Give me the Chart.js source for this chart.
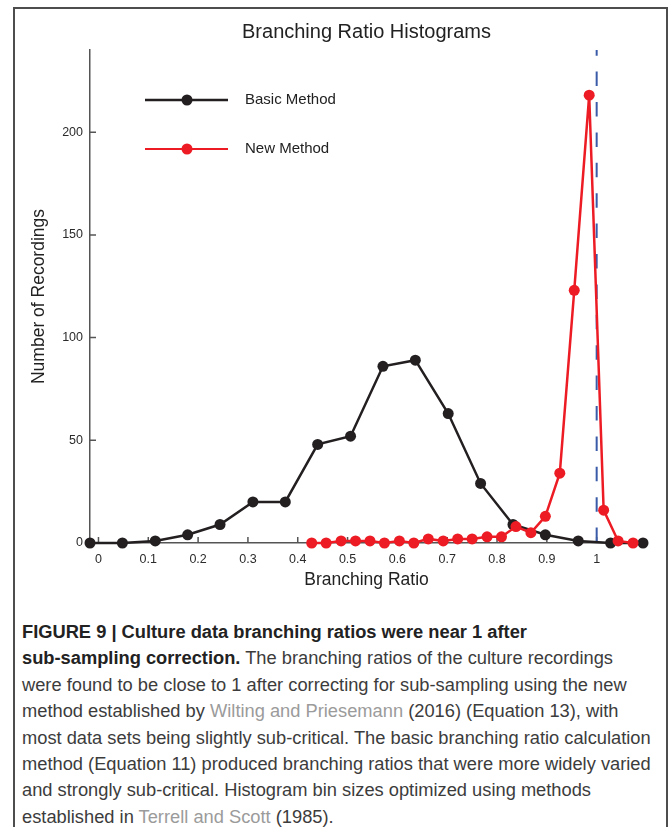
<!DOCTYPE html>
<html>
<head>
<meta charset="utf-8">
<script src="https://cdn.jsdelivr.net/npm/chart.js@4.4.1/dist/chart.umd.min.js"></script>
<style>
    html, body { margin: 0; padding: 0; background: #fff; width: 669px; height: 827px; overflow: hidden; }
    #frame { position: absolute; left: 13px; top: 7px; width: 655px; height: 860px; border: 2px solid #4d4d4d; box-sizing: border-box; pointer-events: none; }
    #chart-wrap { position: absolute; left: 0; top: 0; width: 669px; height: 600px; }
    #caption { position: absolute; left: 22px; top: 619px; font-family: 'Liberation Sans', Arial, sans-serif; font-size: 18.3px; line-height: 26.4px; color: #3c3c3c; white-space: nowrap; }
    #caption .b { font-weight: bold; color: #222; }
    #caption .ref { color: #9b9b9b; }
</style>
</head>
<body>
<div id="chart-wrap"><canvas id="brChart" width="669" height="600"></canvas></div>
<div id="caption">
    <div class="b">FIGURE 9 | Culture data branching ratios were near 1 after</div>
    <div><span class="b">sub-sampling correction.</span> The branching ratios of the culture recordings</div>
    <div>were found to be close to 1 after correcting for sub-sampling using the new</div>
    <div>method established by <span class="ref">Wilting and Priesemann</span> (2016) (Equation 13), with</div>
    <div>most data sets being slightly sub-critical. The basic branching ratio calculation</div>
    <div>method (Equation 11) produced branching ratios that were more widely varied</div>
    <div>and strongly sub-critical. Histogram bin sizes optimized using methods</div>
    <div>established in <span class="ref">Terrell and Scott</span> (1985).</div>
</div>
<div id="frame"></div>
<script>
// Basic method histogram (bin centres / counts)
const basicX = [-0.017, 0.048, 0.114, 0.179, 0.244, 0.310, 0.375, 0.440, 0.506, 0.571, 0.636, 0.702, 0.767, 0.832, 0.897, 0.963, 1.028, 1.093];
const basicY = [0, 0, 1, 4, 9, 20, 20, 48, 52, 86, 89, 63, 29, 9, 4, 1, 0, 0];

// New method histogram
const newX = [0.428, 0.457, 0.487, 0.516, 0.545, 0.574, 0.604, 0.633, 0.662, 0.692, 0.721, 0.750, 0.780, 0.809, 0.838, 0.868, 0.897, 0.926, 0.955, 0.985, 1.014, 1.043, 1.073];
const newY = [0, 0, 1, 1, 1, 0, 1, 0, 2, 1, 2, 2, 3, 3, 8, 5, 13, 34, 123, 218, 16, 1, 0];

// critical branching ratio marker
const critX = [1, 1];
const critY = [240, 0];

const xTicks = [0, 0.1, 0.2, 0.3, 0.4, 0.5, 0.6, 0.7, 0.8, 0.9, 1];
const xTickLabels = ['0', '0.1', '0.2', '0.3', '0.4', '0.5', '0.6', '0.7', '0.8', '0.9', '1'];
const yTicks = [0, 50, 100, 150, 200];
const yTickLabels = ['0', '50', '100', '150', '200'];

const black = '#231f20';
const red = '#ed1c24';
const blue = '#3a5ba8';
const axisColor = '#555555';
const textColor = '#2b2b2b';
const fontFamily = "'Liberation Sans', Arial, sans-serif";

function toPoints(xs, ys) {
    return xs.map((x, i) => ({ x: x, y: ys[i] }));
}

const decorPlugin = {
    id: 'decor',
    beforeDatasetsDraw(chart) {
        // inward tick marks
        const { ctx, chartArea, scales } = chart;
        ctx.save();
        ctx.strokeStyle = axisColor;
        ctx.lineWidth = 1.5;
        ctx.beginPath();
        xTicks.forEach((v) => {
            const px = scales.x.getPixelForValue(v);
            ctx.moveTo(px, chartArea.bottom);
            ctx.lineTo(px, chartArea.bottom - 6);
        });
        yTicks.forEach((v) => {
            const py = scales.y.getPixelForValue(v);
            ctx.moveTo(chartArea.left, py);
            ctx.lineTo(chartArea.left + 6, py);
        });
        ctx.stroke();
        ctx.restore();
    },
    afterDraw(chart) {
        const { ctx, chartArea } = chart;
        ctx.save();
        // title, centred over the plot
        ctx.fillStyle = '#222';
        ctx.font = '20px ' + fontFamily;
        ctx.textAlign = 'center';
        ctx.textBaseline = 'middle';
        ctx.fillText('Branching Ratio Histograms', (chartArea.left + chartArea.right) / 2, 32);

        // legend inside the plot
        const entries = [
            { label: 'Basic Method', color: black, width: 2.5, y: 100 },
            { label: 'New Method', color: red, width: 2, y: 149 },
        ];
        ctx.textAlign = 'left';
        ctx.font = '15px ' + fontFamily;
        entries.forEach((e) => {
            ctx.strokeStyle = e.color;
            ctx.lineWidth = e.width;
            ctx.beginPath();
            ctx.moveTo(145, e.y);
            ctx.lineTo(228, e.y);
            ctx.stroke();
            ctx.fillStyle = e.color;
            ctx.beginPath();
            ctx.arc(187, e.y, 5.5, 0, Math.PI * 2);
            ctx.fill();
            ctx.fillStyle = '#222';
            ctx.fillText(e.label, 245, e.y);
        });
        ctx.restore();
    },
};

new Chart(document.getElementById('brChart').getContext('2d'), {
    type: 'line',
    data: {
        datasets: [
            {
                label: 'New Method',
                data: toPoints(newX, newY),
                borderColor: red,
                backgroundColor: red,
                pointBackgroundColor: red,
                pointBorderWidth: 0,
                borderWidth: 2.5,
                pointRadius: 5.5,
                tension: 0,
                clip: false,
            },
            {
                label: 'Basic Method',
                data: toPoints(basicX, basicY),
                borderColor: black,
                backgroundColor: black,
                pointBackgroundColor: black,
                pointBorderWidth: 0,
                borderWidth: 2.5,
                pointRadius: 5.5,
                tension: 0,
                clip: false,
            },
            {
                label: 'Critical',
                data: toPoints(critX, critY),
                borderColor: blue,
                borderWidth: 2,
                borderDash: [14.5, 15.9],
                borderDashOffset: 8.8,
                pointRadius: 0,
                clip: false,
            },
        ],
    },
    options: {
        responsive: false,
        animation: false,
        layout: {
            padding: { top: 50, right: 26, left: 0, bottom: 0 },
        },
        plugins: {
            legend: { display: false },
            tooltip: { enabled: false },
        },
        scales: {
            x: {
                type: 'linear',
                min: -0.017,
                max: 1.093,
                afterFit: (scale) => {
                    scale.height = 57;
                },
                afterBuildTicks: (scale) => {
                    scale.ticks = xTicks.map((v) => ({ value: v }));
                },
                grid: { display: false, drawTicks: false },
                border: { color: axisColor, width: 1.5 },
                ticks: {
                    padding: 9,
                    color: textColor,
                    font: { family: fontFamily, size: 12.5 },
                    callback: (value, index) => xTickLabels[index],
                },
                title: {
                    display: true,
                    text: 'Branching Ratio',
                    color: '#222',
                    font: { family: fontFamily, size: 17.5 },
                    padding: { top: 0, bottom: 9 },
                },
            },
            y: {
                min: 0,
                max: 240,
                afterFit: (scale) => {
                    scale.width = 90;
                },
                afterBuildTicks: (scale) => {
                    scale.ticks = yTicks.map((v) => ({ value: v }));
                },
                grid: { display: false, drawTicks: false },
                border: { color: axisColor, width: 1.5 },
                ticks: {
                    padding: 7,
                    color: textColor,
                    font: { family: fontFamily, size: 12.5 },
                    callback: (value, index) => yTickLabels[index],
                },
                title: {
                    display: true,
                    text: 'Number of Recordings',
                    color: '#222',
                    font: { family: fontFamily, size: 17.5 },
                    padding: { top: 29, bottom: 0 },
                },
            },
        },
    },
    plugins: [decorPlugin],
});
</script>
</body>
</html>
